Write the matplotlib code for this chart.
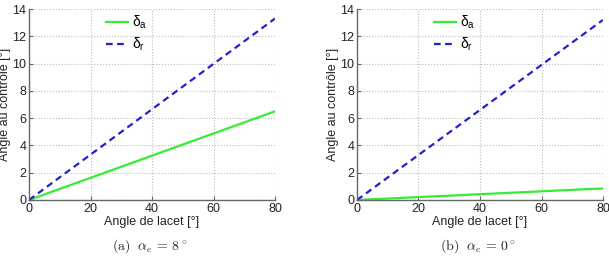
import matplotlib
matplotlib.use("Agg")
import matplotlib.pyplot as plt

plt.rcParams['font.family'] = ['Liberation Sans', 'DejaVu Sans']
plt.rcParams['mathtext.fontset'] = 'custom'
plt.rcParams['mathtext.rm'] = 'Liberation Sans'
plt.rcParams['mathtext.it'] = 'Liberation Sans:italic'

# data
yaw = [0, 80]
da_a = [0, 6.5]
dr_a = [0, 13.3]
da_b = [0, 0.85]
dr_b = [0, 13.2]
xticks = [0, 20, 40, 60, 80]
yticks = [0, 2, 4, 6, 8, 10, 12, 14]
ylabels = ["Angle au controle [°]", "Angle au contrôle [°]"]
captions = [("(a)", "8"), ("(b)", "0")]

fig = plt.figure(figsize=(6.09, 2.57), dpi=100)
lefts = [29/609, 357/609]
panels = [(da_a, dr_a), (da_b, dr_b)]
for i, (left, (da, dr)) in enumerate(zip(lefts, panels)):
    ax = fig.add_axes([left, 1-200/257, 246/609, 191/257])
    ax.plot(yaw, da, color='#33ee33', lw=1.6, label=r'δ$_\mathrm{a}$')
    ax.plot(yaw, dr, color='#2222cc', lw=1.6, ls=(0, (3, 2)), label=r'δ$_\mathrm{r}$')
    ax.set_xlim(0, 80)
    ax.set_ylim(0, 14)
    ax.set_xticks(xticks)
    ax.set_yticks(yticks)
    ax.grid(True, ls=':', color='#bbbbbb', lw=0.8)
    for s in ['top', 'right']:
        ax.spines[s].set_visible(False)
    for s in ['left', 'bottom']:
        ax.spines[s].set_color('#666666')
        ax.spines[s].set_linewidth(1.0)
    ax.tick_params(direction='in', length=3, labelsize=9, colors='#666666',
                   labelcolor='#222222', pad=2)
    ax.set_xlabel("Angle de lacet [°]", fontsize=9, labelpad=1, color='#222222')
    ax.set_ylabel(ylabels[i], fontsize=9, labelpad=1, color='#222222')
    ax.legend(loc='upper left', bbox_to_anchor=(0.313, 0.975), frameon=False,
              fontsize=10, handlelength=1.6, handletextpad=0.25, labelspacing=0.35,
              borderaxespad=0, borderpad=0)
    lab, val = captions[i]
    cx = left + 121/609
    fig.text(cx, 1-246/257, r"$\mathrm{" + lab + r"}\ \ \alpha_e\, =\, " + val + r"^\circ$",
             ha='center', va='center', fontsize=10, math_fontfamily='cm', color='#222222')

fig.savefig('out.png', dpi=100)
